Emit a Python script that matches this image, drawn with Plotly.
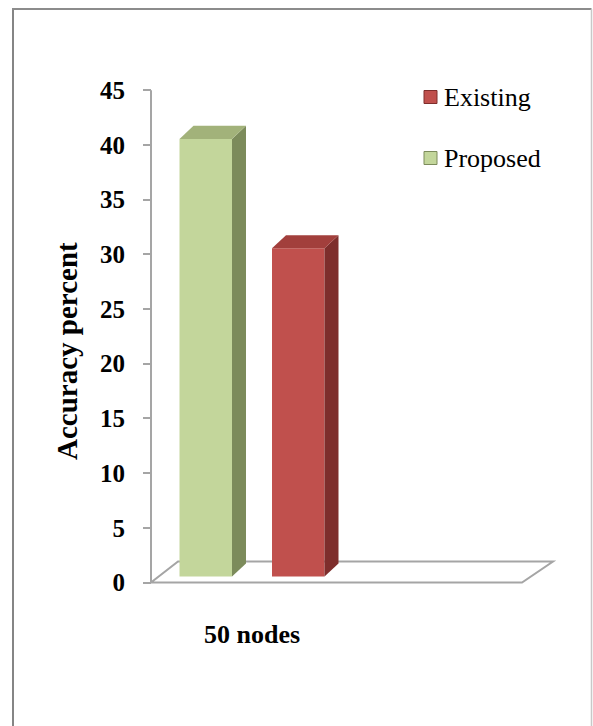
import plotly.graph_objects as go

# ---- data ----
categories = ["50 nodes"]
series_names = ["Proposed", "Existing"]
proposed = [40]
existing = [30]
y_ticks = [0, 5, 10, 15, 20, 25, 30, 35, 40, 45]

# ---- style constants ----
FONT = "Liberation Serif, Times New Roman, serif"
W, H = 593, 726
colors_front = {"Proposed": "#C3D69B", "Existing": "#C0504D"}
colors_side = {"Proposed": "#7C8B5B", "Existing": "#7E2E2C"}
colors_top = {"Proposed": "#A2B27A", "Existing": "#A23F3C"}

bar_width = 0.525
bar_gap = 0.40
base = 0.55            # front face sits mid-depth on the floor
dx_bar, dy_bar = 0.14, 1.19
x_range = [-1.06, 3.06]
y_range = [-0.5, 45.2]
margin = dict(l=146, r=35, t=88, b=138)

fig = go.Figure()

series_vals = {"Proposed": proposed, "Existing": existing}
offsets = {"Proposed": -(bar_gap / 2 + bar_width), "Existing": bar_gap / 2}

for name in series_names:
    vals = series_vals[name]
    xs = list(range(len(categories)))
    fig.add_trace(go.Bar(
        x=xs, y=vals, base=base, width=bar_width, offset=offsets[name],
        marker=dict(color=colors_front[name], line=dict(width=0)),
        name=name, showlegend=False, hoverinfo="skip",
    ))
    for xi, v in zip(xs, vals):
        xl = xi + offsets[name]
        xr = xl + bar_width
        top = base + v
        # side face
        fig.add_trace(go.Scatter(
            x=[xr, xr + dx_bar, xr + dx_bar, xr, xr],
            y=[base, base + dy_bar, top + dy_bar, top, base],
            fill="toself", fillcolor=colors_side[name], mode="lines",
            line=dict(width=0, color=colors_side[name]),
            showlegend=False, hoverinfo="skip"))
        # top face
        fig.add_trace(go.Scatter(
            x=[xl, xl + dx_bar, xr + dx_bar, xr, xl],
            y=[top, top + dy_bar, top + dy_bar, top, top],
            fill="toself", fillcolor=colors_top[name], mode="lines",
            line=dict(width=0, color=colors_top[name]),
            showlegend=False, hoverinfo="skip"))

# floor (3D base) and y-axis line
floor_front = (-1.01, 2.70)
floor_back = (-0.74, 3.01)
floor_depth = 1.92
grey = "#A5A5A5"
shapes = [
    dict(type="path", xref="x", yref="y", layer="below",
         path=f"M {floor_front[0]},0 L {floor_front[1]},0 L {floor_back[1]},{floor_depth} "
              f"L {floor_back[0]},{floor_depth} Z",
         line=dict(color=grey, width=2), fillcolor="white"),
    dict(type="line", xref="x", yref="y", x0=floor_front[0], x1=floor_front[0],
         y0=0, y1=y_ticks[-1], line=dict(color=grey, width=2)),
]

plot_w = W - margin["l"] - margin["r"]
plot_h = H - margin["t"] - margin["b"]


def px(xp):
    return (xp - margin["l"]) / plot_w


def py(yp):
    return (H - margin["b"] - yp) / plot_h


# outer border
shapes += [
    dict(type="line", xref="paper", yref="paper", x0=px(13), x1=px(13), y0=py(9), y1=py(740),
         line=dict(color="#858585", width=2)),
    dict(type="line", xref="paper", yref="paper", x0=px(12), x1=px(591.5), y0=py(9), y1=py(9),
         line=dict(color="#8C8C8C", width=2)),
    dict(type="line", xref="paper", yref="paper", x0=px(591.5), x1=px(591.5), y0=py(9), y1=py(740),
         line=dict(color="#C8C8C8", width=1.5)),
]

# legend (manual, Excel order: Existing above Proposed)
legend_items = [("Existing", 97), ("Proposed", 158)]
annotations = []
for name, yc in legend_items:
    shapes.append(dict(type="rect", xref="paper", yref="paper",
                       x0=px(424), x1=px(437), y0=py(yc - 6.5), y1=py(yc + 6.5),
                       fillcolor=colors_front[name],
                       line=dict(color=colors_side[name], width=1)))
    annotations.append(dict(text=name, xref="paper", yref="paper", x=px(442), y=py(yc),
                            xanchor="left", yanchor="middle", showarrow=False,
                            font=dict(family=FONT, size=26, color="black")))

annotations.append(dict(text="Accuracy percent", xref="paper", yref="paper",
                        x=px(67), y=py(351), textangle=-90, showarrow=False,
                        xanchor="center", yanchor="middle",
                        font=dict(family=FONT, size=29, color="black", weight="bold")))

fig.update_layout(
    width=W, height=H, margin=margin,
    paper_bgcolor="white", plot_bgcolor="rgba(0,0,0,0)",
    barmode="overlay", showlegend=False,
    shapes=shapes, annotations=annotations,
    xaxis=dict(range=x_range, tickvals=list(range(len(categories))), ticktext=categories,
               showgrid=False, zeroline=False, showline=False, ticks="",
               ticklabelstandoff=28,
               tickfont=dict(family=FONT, size=26, color="black", weight="bold")),
    yaxis=dict(range=y_range, tickvals=y_ticks, anchor="free", position=(151 - margin["l"]) / plot_w,
               showgrid=False, zeroline=False, showline=False,
               ticks="outside", ticklen=8, tickwidth=2, tickcolor=grey,
               ticklabelstandoff=13,
               tickfont=dict(family=FONT, size=25, color="black", weight="bold")),
)

fig.write_html("out.html")
